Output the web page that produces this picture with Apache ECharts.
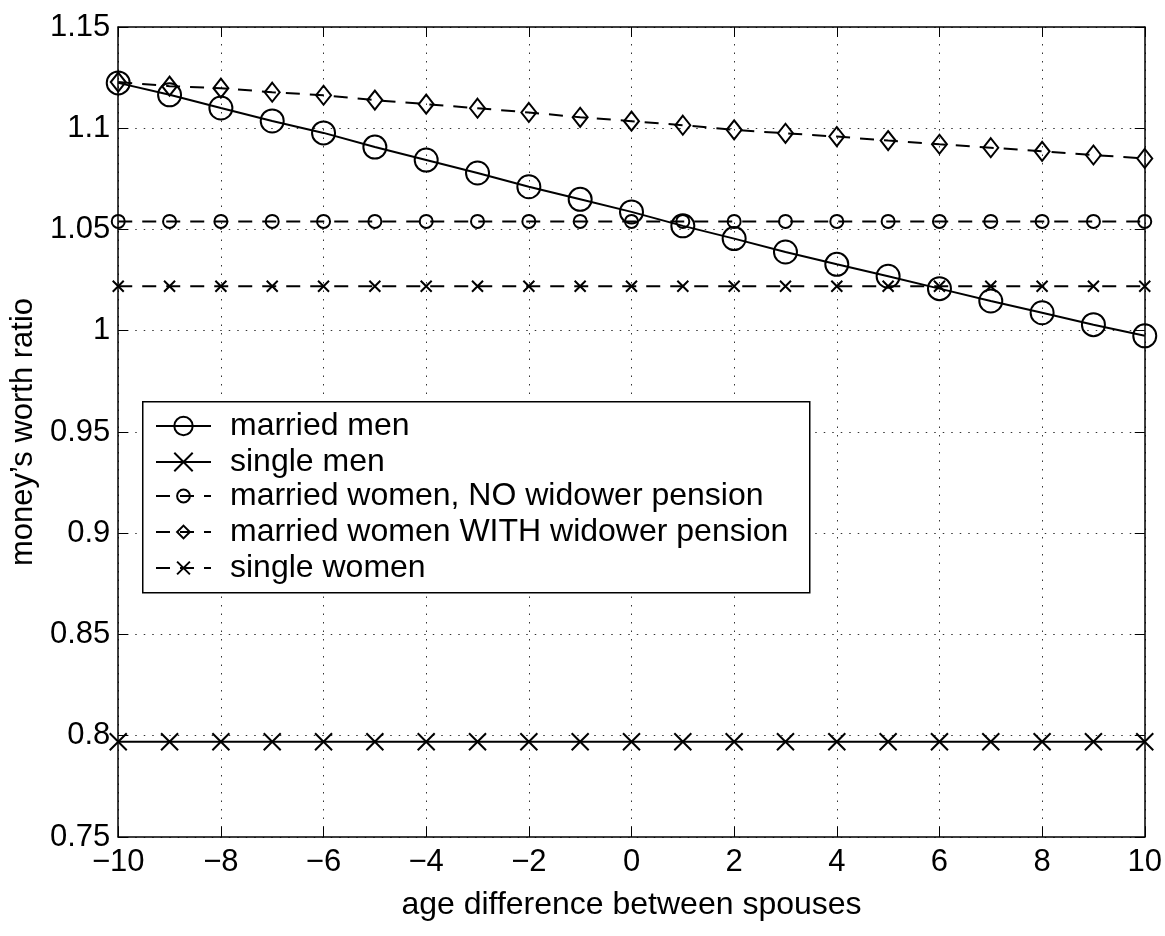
<!DOCTYPE html>
<html>
<head>
<meta charset="utf-8">
<script src="https://cdn.jsdelivr.net/npm/echarts@6/dist/echarts.min.js"></script>
<style>html,body{margin:0;padding:0;background:#fff}#c{width:1165px;height:936px}</style>
</head>
<body>
<div id="c"></div>
<script>
var ages = [-10,-9,-8,-7,-6,-5,-4,-3,-2,-1,0,1,2,3,4,5,6,7,8,9,10];
var marriedMen = [1.1224,1.1165,1.1100,1.1036,1.0977,1.0907,1.0843,1.0779,1.0711,1.0649,1.0587,1.0518,1.0455,1.0389,1.0328,1.0269,1.0208,1.0147,1.0089,1.0030,0.9975];
var singleMen = [0.797,0.797,0.797,0.797,0.797,0.797,0.797,0.797,0.797,0.797,0.797,0.797,0.797,0.797,0.797,0.797,0.797,0.797,0.797,0.797,0.797];
var marriedWomenNo = [1.054,1.054,1.054,1.054,1.054,1.054,1.054,1.054,1.054,1.054,1.054,1.054,1.054,1.054,1.054,1.054,1.054,1.054,1.054,1.054,1.054];
var marriedWomenWith = [1.1228,1.1208,1.1198,1.1178,1.1163,1.1139,1.1119,1.1099,1.1078,1.1054,1.1035,1.1015,1.0992,1.0975,1.0959,1.0939,1.0921,1.0904,1.0886,1.0868,1.0851];
var singleWomen = [1.022,1.022,1.022,1.022,1.022,1.022,1.022,1.022,1.022,1.022,1.022,1.022,1.022,1.022,1.022,1.022,1.022,1.022,1.022,1.022,1.022];
var seriesNames = ['married men','single men','married women, NO widower pension','married women WITH widower pension','single women'];
var xLabel = 'age difference between spouses';
var yLabel = 'money\u2019s worth ratio';

function pairs(vals){ return ages.map(function(a,i){ return [a, vals[i]]; }); }
var FONT = 'Liberation Sans, Arial, Helvetica, sans-serif';
var X_PATH = 'path://M0 0L10 10M10 0L0 10';
var clear = 'rgba(0,0,0,0)';

function mk(name, vals, symbol, size, dashed){
  return {
    name: name, type: 'line', data: pairs(vals),
    symbol: symbol, symbolSize: size, showSymbol: true,
    lineStyle: {color: '#000', width: 2, type: dashed ? [14,10] : 'solid'},
    itemStyle: {color: clear, borderColor: '#000', borderWidth: 2},
    emphasis: {disabled: true},
    z: 2
  };
}

var legendText = {fontFamily: FONT, fontSize: 32, color: '#000', padding: [0,0,0,14]};
function legendBlock(names, top, itemH){
  return {
    orient: 'vertical', left: 155, top: top, data: names,
    padding: 0, itemWidth: 55, itemHeight: itemH, itemGap: 4,
    textStyle: legendText, selectedMode: false, z: 6
  };
}

var axisLineStyle = {color: '#000', width: 1.5};
var tickStyle = {show: true, inside: true, length: 10, lineStyle: {color: '#000', width: 1}};
var gridDots = {show: true, lineStyle: {color: '#333', width: 1, type: [1.5, 7]}};

var chart = echarts.init(document.getElementById('c'), null, {renderer: 'canvas'});
chart.setOption({
  animation: false,
  backgroundColor: '#fff',
  textStyle: {fontFamily: FONT},
  grid: {left: 116, right: 18, top: 27, bottom: 99, containLabel: false},
  graphic: [{
    type: 'rect', left: 142, top: 401, z: 5,
    shape: {width: 667, height: 191},
    style: {fill: '#fff', stroke: '#000', lineWidth: 1.5}
  }],
  legend: [
    legendBlock(seriesNames.slice(0, 2), 410, 23),
    legendBlock(seriesNames.slice(2), 480, 16)
  ],
  xAxis: [{
    type: 'value', min: -10, max: 10, interval: 2,
    name: xLabel, nameLocation: 'middle', nameGap: 52,
    nameTextStyle: {fontFamily: FONT, fontSize: 32, color: '#000'},
    axisLine: {show: true, onZero: false, lineStyle: axisLineStyle},
    axisTick: tickStyle,
    axisLabel: {fontFamily: FONT, fontSize: 31, color: '#000', margin: 10,
      formatter: function(v){ return String(v).replace('-', '\u2212'); }},
    splitLine: gridDots
  },{
    type: 'value', min: -10, max: 10, interval: 2, position: 'top',
    axisLine: {show: true, onZero: false, lineStyle: axisLineStyle},
    axisTick: tickStyle, axisLabel: {show: false}, splitLine: {show: false}
  }],
  yAxis: [{
    type: 'value', min: 0.75, max: 1.15, interval: 0.05,
    name: yLabel, nameLocation: 'middle', nameGap: 55,
    nameTextStyle: {fontFamily: FONT, fontSize: 31, color: '#000'},
    axisLine: {show: true, onZero: false, lineStyle: axisLineStyle},
    axisTick: tickStyle,
    axisLabel: {fontFamily: FONT, fontSize: 31, color: '#000', margin: 8,
      formatter: function(v){ return String(+v.toFixed(2)); }},
    splitLine: gridDots
  },{
    type: 'value', min: 0.75, max: 1.15, interval: 0.05, position: 'right',
    axisLine: {show: true, onZero: false, lineStyle: axisLineStyle},
    axisTick: tickStyle, axisLabel: {show: false}, splitLine: {show: false}
  }],
  series: [
    mk(seriesNames[0], marriedMen, 'circle', 23, false),
    mk(seriesNames[1], singleMen, X_PATH, 17, false),
    mk(seriesNames[2], marriedWomenNo, 'circle', 13, true),
    mk(seriesNames[3], marriedWomenWith, 'diamond', [15, 19], true),
    mk(seriesNames[4], singleWomen, X_PATH, 11, true)
  ]
});
</script>
</body>
</html>
